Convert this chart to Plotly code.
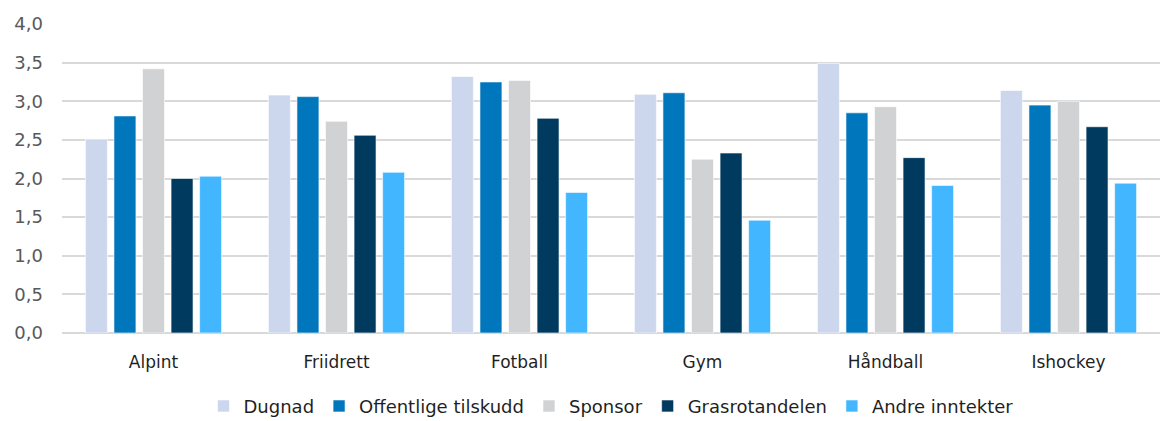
import plotly.graph_objects as go

# Sports categories and average scores per income source
categories = ["Alpint", "Friidrett", "Fotball", "Gym", "Håndball", "Ishockey"]

dugnad = [2.51, 3.08, 3.32, 3.09, 3.49, 3.14]
offentlige_tilskudd = [2.81, 3.06, 3.25, 3.11, 2.85, 2.95]
sponsor = [3.42, 2.74, 3.27, 2.25, 2.93, 3.00]
grasrotandelen = [2.00, 2.56, 2.78, 2.33, 2.27, 2.67]
andre_inntekter = [2.03, 2.08, 1.82, 1.46, 1.91, 1.94]

y_ticks = [0, 0.5, 1.0, 1.5, 2.0, 2.5, 3.0, 3.5, 4.0]

series = [
    ("Dugnad", dugnad, "#CCD7EE"),
    ("Offentlige tilskudd", offentlige_tilskudd, "#0077BD"),
    ("Sponsor", sponsor, "#D1D2D4"),
    ("Grasrotandelen", grasrotandelen, "#003A5F"),
    ("Andre inntekter", andre_inntekter, "#42B6FF"),
]

fig = go.Figure()
for name, values, color in series:
    fig.add_trace(go.Bar(
        name=name,
        x=categories,
        y=values,
        marker=dict(color=color, line=dict(color="rgba(255,255,255,0.6)", width=1)),
    ))

font_family = "'DejaVu Sans', sans-serif"
label_color = "#1F1F1F"
tick_color = "#595959"

fig.update_layout(
    width=1163,
    height=421,
    margin=dict(l=62, r=3, t=24, b=88, autoexpand=False),
    paper_bgcolor="white",
    plot_bgcolor="white",
    barmode="group",
    bargap=0.22,
    bargroupgap=0.23,
    separators=", ",
    font=dict(family=font_family, size=17, color=label_color),
    showlegend=True,
    legend=dict(
        orientation="h",
        x=0.5,
        xanchor="center",
        yref="container",
        y=0.035,
        yanchor="middle",
        font=dict(size=18, color=label_color),
        itemwidth=30,
        tracegroupgap=0,
    ),
    xaxis=dict(
        showgrid=False,
        showline=False,
        ticks="",
        ticklabelstandoff=17,
        tickfont=dict(size=17, color=label_color),
    ),
    yaxis=dict(
        range=[0, 4.0],
        tickvals=y_ticks,
        tickformat=".1f",
        showgrid=True,
        gridcolor="#D9D9D9",
        gridwidth=1.5,
        zeroline=True,
        zerolinecolor="#D9D9D9",
        zerolinewidth=1.5,
        showline=False,
        ticks="",
        ticklabelstandoff=18,
        tickfont=dict(size=18, color=tick_color),
    ),
)

fig.write_html("out.html")
